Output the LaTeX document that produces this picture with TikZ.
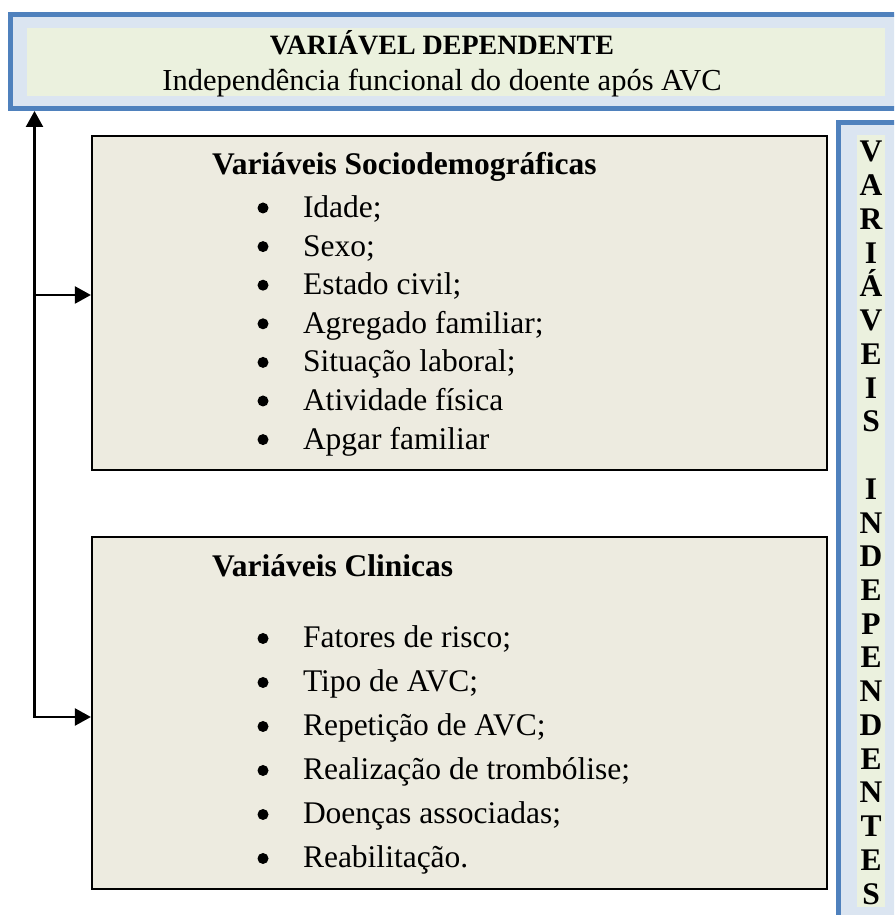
\documentclass[tikz,border=0pt]{standalone}
\usepackage{fontspec}
\setmainfont{Liberation Serif}
\usepackage{xcolor}
\usetikzlibrary{arrows.meta}

\begin{document}
\begin{tikzpicture}[x=1pt,y=1pt,
  bluebox/.style={draw=borderBlue,line width=5pt,fill=paleBlue,inner sep=0pt},
  greenbox/.style={fill=paleGreen,inner sep=0pt},
  varbox/.style={draw=black,line width=2.2pt,fill=boxFill,inner sep=0pt},
  lbl/.style={inner sep=0pt,outer sep=0pt,font=\fontsize{31.5}{38}\selectfont},
  bold/.style={lbl,font=\fontsize{31.5}{38}\selectfont\bfseries},
  dot/.style={circle,fill=black,inner sep=0pt,minimum size=11pt},
  link/.style={draw=black,line width=2.3pt,line cap=rect,-{Triangle[width=17pt,length=16pt]}}]
\definecolor{borderBlue}{RGB}{79,129,189}
\definecolor{paleBlue}{RGB}{219,229,241}
\definecolor{paleGreen}{RGB}{235,241,222}
\definecolor{boxFill}{RGB}{237,235,224}
\path[use as bounding box,fill=white] (0,0) rectangle (894,915);
\begin{scope}
\path[clip] (0,0) rectangle (894,915);

% dependent variable
\node[bluebox,minimum width=894.5pt,minimum height=94pt] (dep) at (457.75,853.5) {};
\node[greenbox,minimum width=858pt,minimum height=68pt] (depIn) at (456,853) {};
\node[bold,anchor=base,font=\fontsize{28}{34}\selectfont\bfseries] (depTitle) at (442,860.5) {VARIÁVEL DEPENDENTE};
\node[lbl,anchor=base,font=\fontsize{30.5}{36}\selectfont] (depText) at (442,824) {Independência funcional do doente após AVC};

% independent variables (right strip)
\node[bluebox,minimum width=71.5pt,minimum height=807.5pt] (indep) at (874.25,388.75) {};
\node[greenbox,minimum width=28pt,minimum height=772pt] (indepIn) at (871,394) {};
\foreach \ch [count=\i from 0] in {V,A,R,I,Á,V,E,I,S}
  \node[bold,anchor=base] (indepA\i) at (871,753-33.73*\i) {\ch};
\foreach \ch [count=\i from 10] in {I,N,D,E,P,E,N,D,E,N,T,E,S}
  \node[bold,anchor=base] (indepB\i) at (871,753-33.73*\i) {\ch};

% sociodemographic variables
\node[varbox,minimum width=735pt,minimum height=334pt] (socio) at (459.5,612) {};
\node[bold,anchor=base west] (socioHead) at (212,740) {Variáveis Sociodemográficas};
\foreach \txt [count=\i from 0] in {Idade;,Sexo;,Estado civil;,Agregado familiar;,Situação laboral;,Atividade física,Apgar familiar}{
  \node[dot] (socioDot\i) at (263,707-38.6*\i) {};
  \node[lbl,anchor=base west] (socioItem\i) at (303,697.5-38.6*\i) {\txt};
}

% clinical variables
\node[varbox,minimum width=735pt,minimum height=352pt] (clin) at (459.5,202) {};
\node[bold,anchor=base west] (clinHead) at (212,338) {Variáveis Clinicas};
\foreach \txt [count=\i from 0] in {Fatores de risco;,Tipo de AVC;,Repetição de AVC;,Realização de trombólise;,Doenças associadas;,Reabilitação.}{
  \node[dot] (clinDot\i) at (263,276.5-44*\i) {};
  \node[lbl,anchor=base west] (clinItem\i) at (303,267-44*\i) {\txt};
}

% connectors
\coordinate (trunk) at (34.5,198);
\coordinate (fork) at (34.5,620);
\draw[link] (trunk) -- (trunk |- dep.south);
\draw[link] (fork) -- (fork -| socio.west);
\draw[link] (trunk) -- (trunk -| clin.west);
\end{scope}
\end{tikzpicture}
\end{document}
